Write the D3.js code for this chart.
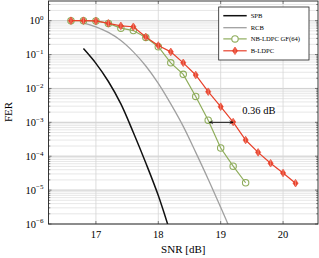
<!DOCTYPE html>
<html>
<head>
<meta charset="utf-8">
<script src="https://cdn.jsdelivr.net/npm/d3@7"></script>
<style>
body { margin: 0; background: #fff; }
text { font-family: "Liberation Serif", serif; }
</style>
</head>
<body>
<script>
// data
var snrSPB = [16.8, 17.0, 17.2, 17.4, 17.6, 17.8, 18.0, 18.2];
var ferSPB = [0.15, 0.055, 0.016, 3.5e-3, 5e-4, 6.3e-5, 6.9e-6, 5e-7];

var snrRCB = [16.8, 17.0, 17.2, 17.4, 17.6, 17.8, 18.0, 18.2, 18.4, 18.6, 18.8, 19.0, 19.2];
var ferRCB = [0.85, 0.66, 0.45, 0.26, 0.12, 0.046, 0.0141, 3.5e-3, 7.6e-4, 1.3e-4, 2.1e-5, 3.1e-6, 4.4e-7];

var snrNB = [16.6, 16.8, 17.0, 17.2, 17.4, 17.6, 17.8, 18.0, 18.2, 18.4, 18.6, 18.8, 19.0, 19.2, 19.4];
var ferNB = [1.0, 1.0, 0.98, 0.83, 0.60, 0.51, 0.32, 0.17, 0.057, 0.026, 5.8e-3, 1.15e-3, 1.75e-4, 5.1e-5, 1.65e-5];

var snrB = [16.6, 16.8, 17.0, 17.2, 17.4, 17.6, 17.8, 18.0, 18.2, 18.4, 18.6, 18.8, 19.0, 19.2, 19.4, 19.6, 19.8, 20.0, 20.2];
var ferB = [1.0, 1.0, 0.98, 0.83, 0.70, 0.66, 0.33, 0.185, 0.12, 0.057, 0.025, 8e-3, 2.9e-3, 1.02e-3, 3.0e-4, 1.3e-4, 6.2e-5, 3.2e-5, 1.6e-5];

var xTicks = [17, 18, 19, 20];
var yTicksExp = [0, -1, -2, -3, -4, -5, -6];
var legendNames = ["SPB", "RCB", "NB-LDPC GF(64)", "B-LDPC"];

// gap annotation: green at 18.8 vs red at 19.2, level 1e-3
var gapFrom = 18.82, gapTo = 19.2, gapLevel = 1e-3, gapLabel = "0.36 dB";

var W = 319, H = 258;
var plot = { left: 48.5, right: 318, top: 1, bottom: 224 };

var colBlack = "#111", colGrey = "#a0a0a0", colGreen = "#8fad5c", colRed = "#e8412b";

var svg = d3.select("body").append("svg").attr("width", W).attr("height", H);

var x = d3.scaleLinear().domain([16.24, 20.56]).range([plot.left, plot.right]);
var y = d3.scaleLog().domain([1e-6, Math.pow(10, 0.58)]).range([plot.bottom, plot.top]);

svg.append("defs").append("clipPath").attr("id", "clip")
	.append("rect").attr("x", plot.left).attr("y", plot.top)
	.attr("width", plot.right - plot.left).attr("height", plot.bottom - plot.top);

//grid
var grid = svg.append("g");
var minor = [];
for (var e = -6; e <= 0; e++) {
	for (var m = 1; m <= 9; m++) {
		var v = m * Math.pow(10, e);
		if (v >= y.domain()[0] && v <= y.domain()[1]) minor.push(v);
	}
}
grid.selectAll(".hmin").data(minor).enter().append("line")
	.attr("x1", plot.left).attr("x2", plot.right)
	.attr("y1", function(d){ return y(d); }).attr("y2", function(d){ return y(d); })
	.attr("stroke", "#e1e1e1").attr("stroke-width", 0.8);
grid.selectAll(".hmaj").data(yTicksExp).enter().append("line")
	.attr("x1", plot.left).attr("x2", plot.right)
	.attr("y1", function(d){ return y(Math.pow(10, d)); }).attr("y2", function(d){ return y(Math.pow(10, d)); })
	.attr("stroke", "#cccccc").attr("stroke-width", 0.8);
grid.selectAll(".vmaj").data(xTicks).enter().append("line")
	.attr("x1", function(d){ return x(d); }).attr("x2", function(d){ return x(d); })
	.attr("y1", plot.top).attr("y2", plot.bottom)
	.attr("stroke", "#d6d6d6").attr("stroke-width", 0.8);

// ticks inside the frame
var ticks = svg.append("g").attr("stroke", "#333").attr("stroke-width", 0.6);
minor.forEach(function(v){
	var len = (Math.abs(Math.log10(v) - Math.round(Math.log10(v))) < 1e-9) ? 3 : 1.8;
	ticks.append("line").attr("x1", plot.left).attr("x2", plot.left + len).attr("y1", y(v)).attr("y2", y(v));
	ticks.append("line").attr("x1", plot.right).attr("x2", plot.right - len).attr("y1", y(v)).attr("y2", y(v));
});
xTicks.forEach(function(t){
	ticks.append("line").attr("x1", x(t)).attr("x2", x(t)).attr("y1", plot.bottom).attr("y2", plot.bottom - 3);
	ticks.append("line").attr("x1", x(t)).attr("x2", x(t)).attr("y1", plot.top).attr("y2", plot.top + 3);
});

//curves
var line = d3.line()
	.x(function(d){ return x(d[0]); })
	.y(function(d){ return y(d[1]); })
	.curve(d3.curveCatmullRom.alpha(0.5));

function zip(a, b){ return a.map(function(v, i){ return [v, b[i]]; }); }

var curves = svg.append("g").attr("clip-path", "url(#clip)");
curves.append("path").datum(zip(snrRCB, ferRCB)).attr("d", line)
	.attr("fill", "none").attr("stroke", colGrey).attr("stroke-width", 1.3);
curves.append("path").datum(zip(snrSPB, ferSPB)).attr("d", line)
	.attr("fill", "none").attr("stroke", colBlack).attr("stroke-width", 1.5);

var lin = d3.line().x(function(d){ return x(d[0]); }).y(function(d){ return y(d[1]); });

curves.append("path").datum(zip(snrNB, ferNB)).attr("d", lin)
	.attr("fill", "none").attr("stroke", colGreen).attr("stroke-width", 1.2);
curves.selectAll(".nb").data(zip(snrNB, ferNB)).enter().append("circle")
	.attr("cx", function(d){ return x(d[0]); }).attr("cy", function(d){ return y(d[1]); })
	.attr("r", 3.2).attr("fill", "none").attr("stroke", colGreen).attr("stroke-width", 1.1);

curves.append("path").datum(zip(snrB, ferB)).attr("d", lin)
	.attr("fill", "none").attr("stroke", colRed).attr("stroke-width", 1.2);

function diamond(g, cx, cy){
	g.append("path")
		.attr("d", "M" + cx + "," + (cy - 3.8) + "L" + (cx + 2.6) + "," + cy + "L" + cx + "," + (cy + 3.8) + "L" + (cx - 2.6) + "," + cy + "Z")
		.attr("fill", colRed).attr("stroke", colRed).attr("stroke-width", 0.6);
	g.append("line").attr("x1", cx).attr("x2", cx).attr("y1", cy - 3.2).attr("y2", cy + 3.2)
		.attr("stroke", "#f6a596").attr("stroke-width", 0.6);
}
zip(snrB, ferB).forEach(function(d){ diamond(curves, x(d[0]), y(d[1])); });

// gap arrow
var defs = svg.select("defs");
defs.append("marker").attr("id", "ah").attr("viewBox", "0 0 10 10").attr("refX", 9).attr("refY", 5)
	.attr("markerWidth", 5).attr("markerHeight", 5).attr("orient", "auto-start-reverse")
	.append("path").attr("d", "M1,1.5 Q5,4 9,5 Q5,6 1,8.5").attr("fill", "none").attr("stroke", "#000").attr("stroke-width", 1.4);
svg.append("line").attr("x1", x(gapFrom)).attr("x2", x(gapTo))
	.attr("y1", y(gapLevel)).attr("y2", y(gapLevel))
	.attr("stroke", "#000").attr("stroke-width", 0.9)
	.attr("marker-start", "url(#ah)").attr("marker-end", "url(#ah)");
var gl = svg.append("text").attr("x", x(gapTo) + 9).attr("y", y(gapLevel) - 8.5)
	.attr("font-size", 10.5).attr("fill", "#000").text(gapLabel);
var bb = gl.node().getBBox();
svg.insert("rect", "text").attr("x", bb.x - 1).attr("y", bb.y).attr("width", bb.width + 2).attr("height", bb.height)
	.attr("fill", "#fff");

//frame
svg.append("rect").attr("x", plot.left).attr("y", plot.top)
	.attr("width", plot.right - plot.left).attr("height", plot.bottom - plot.top)
	.attr("fill", "none").attr("stroke", "#222").attr("stroke-width", 0.9);

//tick labels
svg.selectAll(".xl").data(xTicks).enter().append("text")
	.attr("x", function(d){ return x(d); }).attr("y", 237.5)
	.attr("text-anchor", "middle").attr("font-size", 10.5).text(function(d){ return d; });

yTicksExp.forEach(function(ex){
	var t = svg.append("text").attr("x", 43.5).attr("y", y(Math.pow(10, ex)) + 3.5)
		.attr("text-anchor", "end").attr("font-size", 10.5);
	t.append("tspan").text("10");
	t.append("tspan").attr("dy", -4.2).attr("font-size", 7).text(ex == 0 ? "0" : "\u2212" + (-ex));
});

svg.append("text").attr("x", (plot.left + plot.right) / 2).attr("y", 253)
	.attr("text-anchor", "middle").attr("font-size", 11).text("SNR [dB]");
svg.append("text").attr("transform", "translate(12," + 112 + ") rotate(-90)")
	.attr("text-anchor", "middle").attr("font-size", 11).text("FER");

//legend
var lg = svg.append("g");
lg.append("rect").attr("x", 218.7).attr("y", 7).attr("width", 90.3).attr("height", 53)
	.attr("fill", "#fff").attr("stroke", "#222").attr("stroke-width", 0.8);
var lgY = [15.7, 27.7, 38.9, 50.8];
var lgCol = [colBlack, colGrey, colGreen, colRed];
var lgW = [1.5, 1.3, 1.2, 1.2];
legendNames.forEach(function(name, i){
	lg.append("line").attr("x1", 223.3).attr("x2", 246.7).attr("y1", lgY[i]).attr("y2", lgY[i])
		.attr("stroke", lgCol[i]).attr("stroke-width", lgW[i]);
	if (i == 2) lg.append("circle").attr("cx", 235).attr("cy", lgY[i]).attr("r", 3.2)
		.attr("fill", "#fff").attr("stroke", colGreen).attr("stroke-width", 1.1);
	if (i == 3) diamond(lg, 235, lgY[i]);
	lg.append("text").attr("x", 250.7).attr("y", lgY[i] + 2.3).attr("font-size", 6.6).text(name);
});
</script>
</body>
</html>
